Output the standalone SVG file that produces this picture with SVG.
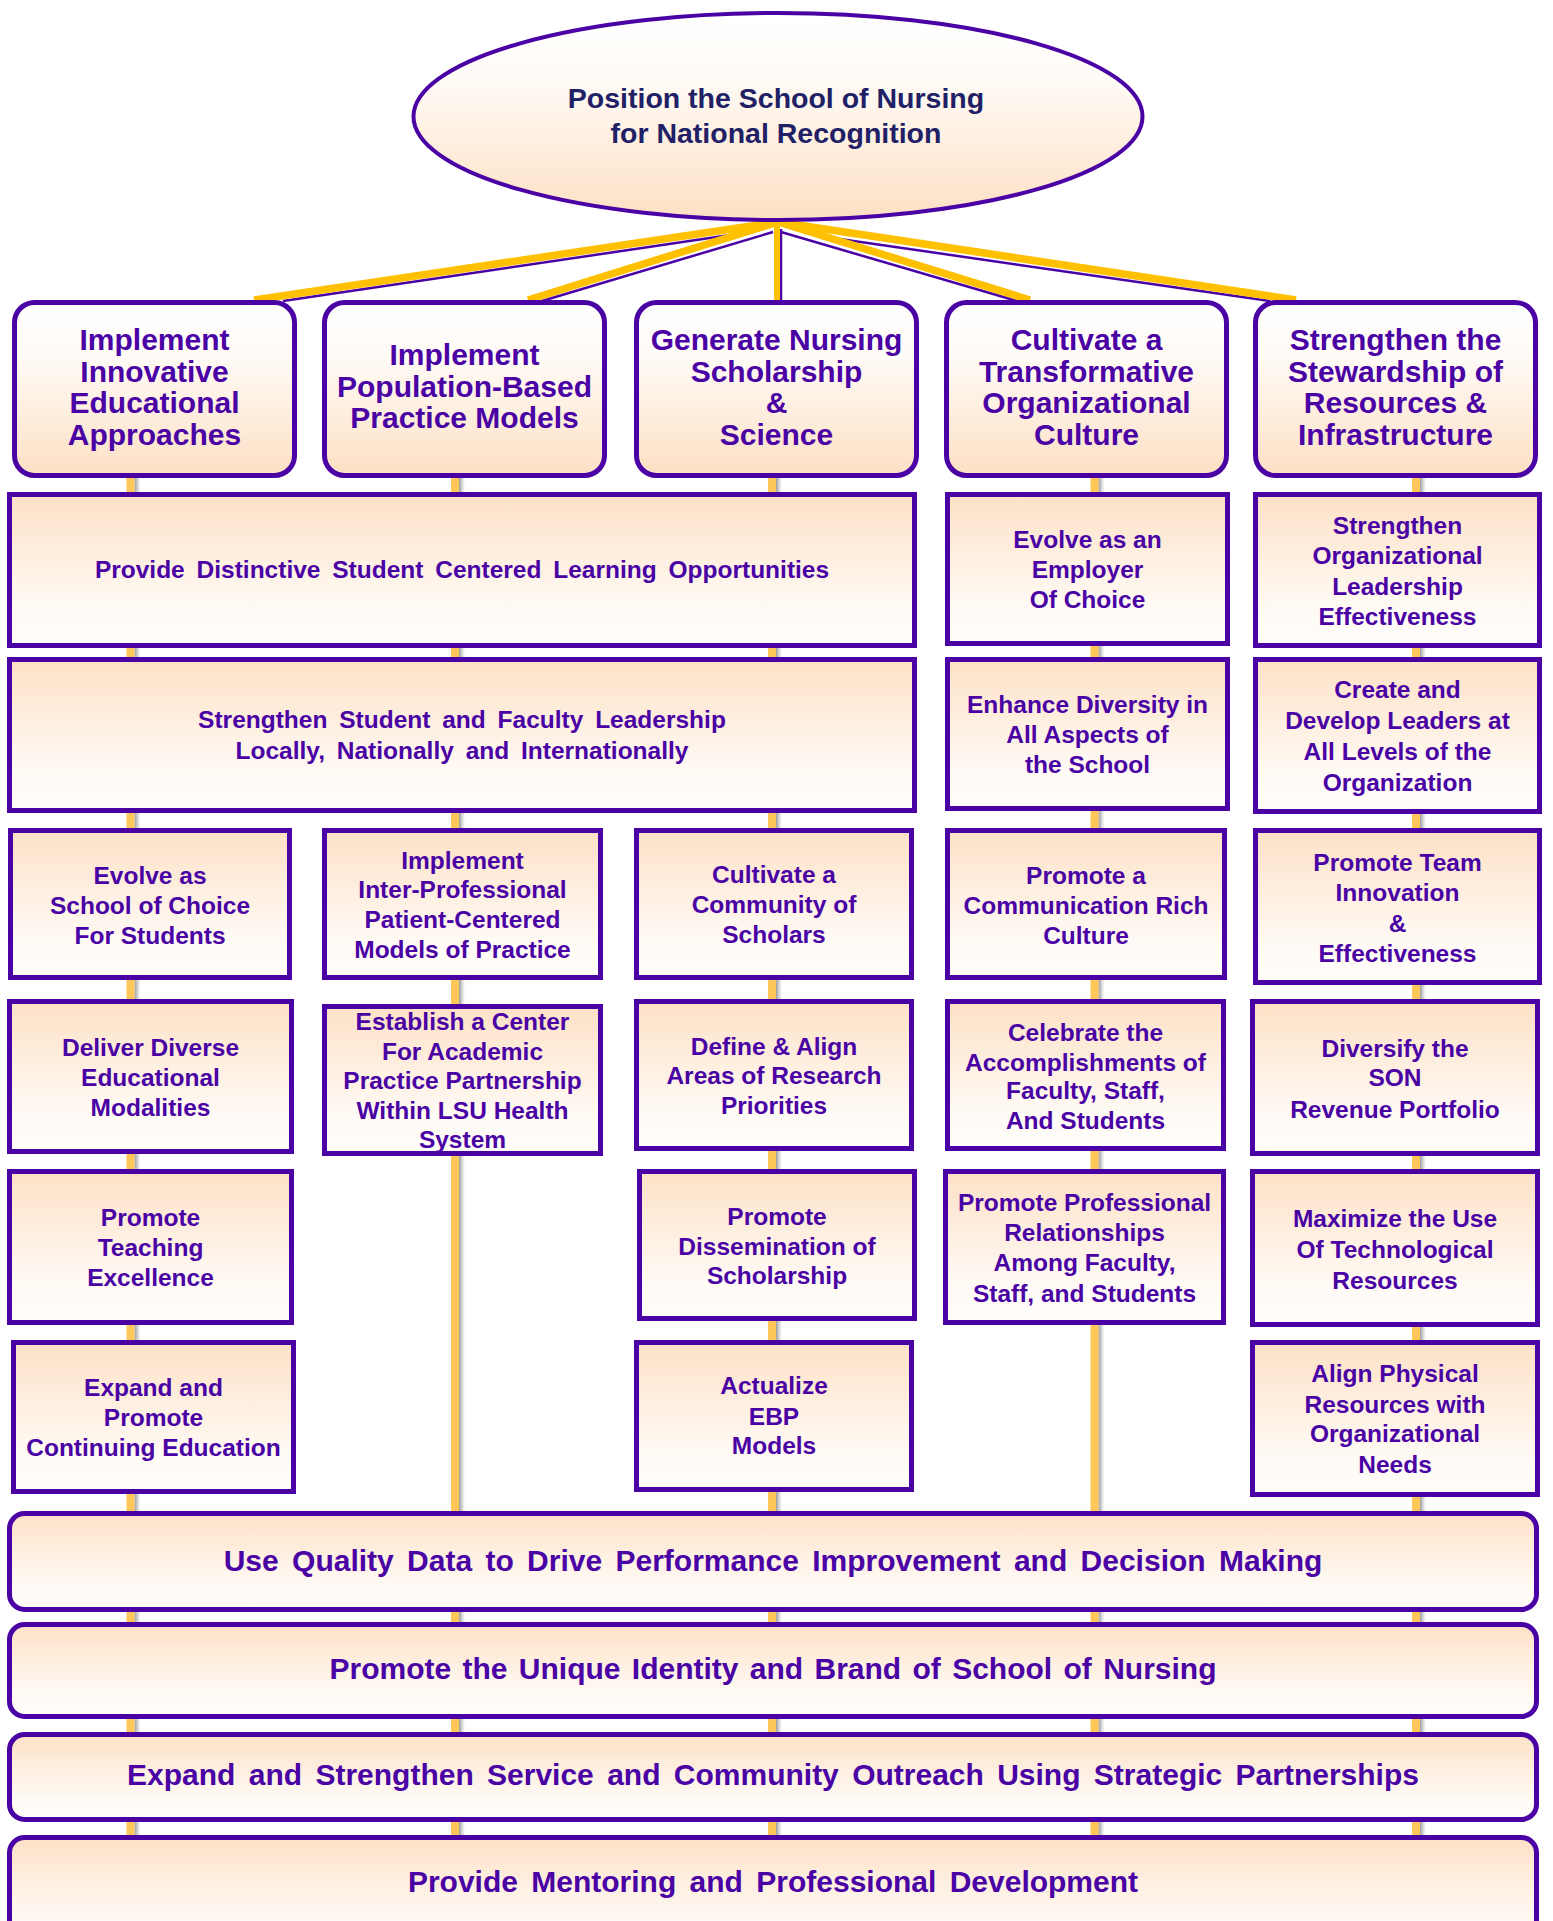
<svg xmlns="http://www.w3.org/2000/svg" width="1553" height="1921" viewBox="0 0 1553 1921">
<defs>
<linearGradient id="gUp" x1="0" y1="0" x2="0" y2="1">
<stop offset="0" stop-color="#FFFFFF"/>
<stop offset="0.3" stop-color="#FFFBF7"/>
<stop offset="1" stop-color="#FDE0C4"/>
</linearGradient>
<linearGradient id="gDown" x1="0" y1="0" x2="0" y2="1">
<stop offset="0" stop-color="#FDE1C6"/>
<stop offset="0.75" stop-color="#FFFAF5"/>
<stop offset="1" stop-color="#FFFDFB"/>
</linearGradient>
<linearGradient id="gShadow" x1="0" y1="0" x2="1" y2="0">
<stop offset="0" stop-color="#7A7A7A" stop-opacity="0.75"/>
<stop offset="1" stop-color="#9A9A9A" stop-opacity="0"/>
</linearGradient>
</defs>
<style>
.n{fill:url(#gDown);stroke:#4A02A5;stroke-width:5}
.top{fill:url(#gUp);stroke:#4A02A5;stroke-width:5}
text{font-family:"Liberation Sans",Arial,sans-serif;font-weight:bold;fill:#4A02A5;text-anchor:middle}
.t{font-size:24.5px}
.h{font-size:30px}
.b{font-size:30px;word-spacing:5px}
.w{word-spacing:5px}
.e{font-size:28.5px;fill:#211F66}
.gold{stroke:#FFC000;stroke-width:7.5;fill:none}
.pur{stroke:#4A02A5;stroke-width:2.5;fill:none}
.vl{fill:#FFC65A}
.vs{fill:url(#gShadow)}
</style>

<g id="connectors">
<rect class="vs" x="134.5" y="478" width="6" height="1443"/>
<rect class="vl" x="126.5" y="478" width="8" height="1443"/>
<rect class="vs" x="459" y="478" width="6" height="1443"/>
<rect class="vl" x="451" y="478" width="8" height="1443"/>
<rect class="vs" x="776" y="478" width="6" height="1443"/>
<rect class="vl" x="768" y="478" width="8" height="1443"/>
<rect class="vs" x="1098.5" y="478" width="6" height="1443"/>
<rect class="vl" x="1090.5" y="478" width="8" height="1443"/>
<rect class="vs" x="1420" y="478" width="6" height="1443"/>
<rect class="vl" x="1412" y="478" width="8" height="1443"/>
<line class="pur" x1="730" y1="235" x2="283" y2="301"/>
<line class="pur" x1="773" y1="232" x2="542" y2="301"/>
<line class="pur" x1="781" y1="229" x2="781" y2="301"/>
<line class="pur" x1="781" y1="232" x2="1017" y2="301"/>
<line class="pur" x1="819" y1="236" x2="1270" y2="301"/>
<line class="gold" x1="778" y1="222" x2="254" y2="300"/>
<line class="gold" x1="778" y1="222" x2="528" y2="300"/>
<line class="gold" x1="777" y1="222" x2="777" y2="300" style="stroke-width:6"/>
<line class="gold" x1="778" y1="222" x2="1030" y2="300"/>
<line class="gold" x1="778" y1="222" x2="1296" y2="300"/>
</g>

<g id="root">
<ellipse cx="778" cy="116.5" rx="364.5" ry="103.5" fill="url(#gUp)" stroke="#4A02A5" stroke-width="4"/>
<text class="e" x="776" y="108">Position the School of Nursing</text>
<text class="e" x="776" y="143">for National Recognition</text>
</g>

<g id="goal1">
<rect class="top" x="14.5" y="302.5" width="280" height="173" rx="20"/>
<text class="h" x="154.5" y="350">Implement</text>
<text class="h" x="154.5" y="381.5">Innovative</text>
<text class="h" x="154.5" y="413">Educational</text>
<text class="h" x="154.5" y="444.5">Approaches</text>
</g>
<g id="goal2">
<rect class="top" x="324.5" y="302.5" width="280" height="173" rx="20"/>
<text class="h" x="464.5" y="365">Implement</text>
<text class="h" x="464.5" y="397">Population-Based</text>
<text class="h" x="464.5" y="428">Practice Models</text>
</g>
<g id="goal3">
<rect class="top" x="636.5" y="302.5" width="280" height="173" rx="20"/>
<text class="h" x="776.5" y="350">Generate Nursing</text>
<text class="h" x="776.5" y="381.5">Scholarship</text>
<text class="h" x="776.5" y="413">&amp;</text>
<text class="h" x="776.5" y="444.5">Science</text>
</g>
<g id="goal4">
<rect class="top" x="946.5" y="302.5" width="280" height="173" rx="20"/>
<text class="h" x="1086.5" y="350">Cultivate a</text>
<text class="h" x="1086.5" y="381.5">Transformative</text>
<text class="h" x="1086.5" y="413">Organizational</text>
<text class="h" x="1086.5" y="444.5">Culture</text>
</g>
<g id="goal5">
<rect class="top" x="1255.5" y="302.5" width="280" height="173" rx="20"/>
<text class="h" x="1395.5" y="350">Strengthen the</text>
<text class="h" x="1395.5" y="381.5">Stewardship of</text>
<text class="h" x="1395.5" y="413">Resources &amp;</text>
<text class="h" x="1395.5" y="444.5">Infrastructure</text>
</g>

<g id="provide-distinctive">
<rect class="n" x="9.5" y="494.5" width="905" height="151"/>
<text class="t w" x="462" y="578">Provide Distinctive Student Centered Learning Opportunities</text>
</g>
<g id="evolve-employer">
<rect class="n" x="947.5" y="494.5" width="280" height="149"/>
<text class="t" x="1087.5" y="548">Evolve as an</text>
<text class="t" x="1087.5" y="578">Employer</text>
<text class="t" x="1087.5" y="608">Of Choice</text>
</g>
<g id="strengthen-org">
<rect class="n" x="1255.5" y="494.5" width="284" height="151"/>
<text class="t" x="1397.5" y="534">Strengthen</text>
<text class="t" x="1397.5" y="564">Organizational</text>
<text class="t" x="1397.5" y="595">Leadership</text>
<text class="t" x="1397.5" y="625">Effectiveness</text>
</g>

<g id="strengthen-student">
<rect class="n" x="9.5" y="659.5" width="905" height="151"/>
<text class="t w" x="462" y="728">Strengthen Student and Faculty Leadership</text>
<text class="t w" x="462" y="759">Locally, Nationally and Internationally</text>
</g>
<g id="enhance-diversity">
<rect class="n" x="947.5" y="659.5" width="280" height="149"/>
<text class="t" x="1087.5" y="713">Enhance Diversity in</text>
<text class="t" x="1087.5" y="743">All Aspects of</text>
<text class="t" x="1087.5" y="773">the School</text>
</g>
<g id="create-develop">
<rect class="n" x="1255.5" y="659.5" width="284" height="152"/>
<text class="t" x="1397.5" y="698">Create and</text>
<text class="t" x="1397.5" y="729">Develop Leaders at</text>
<text class="t" x="1397.5" y="760">All Levels of the</text>
<text class="t" x="1397.5" y="791">Organization</text>
</g>

<g id="evolve-school">
<rect class="n" x="10.5" y="830.5" width="279" height="147"/>
<text class="t" x="150" y="884">Evolve as</text>
<text class="t" x="150" y="914">School of Choice</text>
<text class="t" x="150" y="944">For Students</text>
</g>
<g id="implement-inter">
<rect class="n" x="324.5" y="830.5" width="276" height="147"/>
<text class="t" x="462.5" y="869">Implement</text>
<text class="t" x="462.5" y="898">Inter-Professional</text>
<text class="t" x="462.5" y="928">Patient-Centered</text>
<text class="t" x="462.5" y="958">Models of Practice</text>
</g>
<g id="cultivate-community">
<rect class="n" x="636.5" y="830.5" width="275" height="147"/>
<text class="t" x="774" y="883">Cultivate a</text>
<text class="t" x="774" y="913">Community of</text>
<text class="t" x="774" y="943">Scholars</text>
</g>
<g id="promote-communication">
<rect class="n" x="947.5" y="830.5" width="277" height="147"/>
<text class="t" x="1086" y="884">Promote a</text>
<text class="t" x="1086" y="914">Communication Rich</text>
<text class="t" x="1086" y="944">Culture</text>
</g>
<g id="promote-team">
<rect class="n" x="1255.5" y="830.5" width="284" height="152"/>
<text class="t" x="1397.5" y="871">Promote Team</text>
<text class="t" x="1397.5" y="901">Innovation</text>
<text class="t" x="1397.5" y="932">&amp;</text>
<text class="t" x="1397.5" y="962">Effectiveness</text>
</g>

<g id="deliver-diverse">
<rect class="n" x="9.5" y="1001.5" width="282" height="150"/>
<text class="t" x="150.5" y="1056">Deliver Diverse</text>
<text class="t" x="150.5" y="1086">Educational</text>
<text class="t" x="150.5" y="1116">Modalities</text>
</g>
<g id="establish-center">
<rect class="n" x="324.5" y="1006.5" width="276" height="147"/>
<text class="t" x="462.5" y="1030">Establish a Center</text>
<text class="t" x="462.5" y="1060">For Academic</text>
<text class="t" x="462.5" y="1089">Practice Partnership</text>
<text class="t" x="462.5" y="1119">Within LSU Health</text>
<text class="t" x="462.5" y="1148">System</text>
</g>
<g id="define-align">
<rect class="n" x="636.5" y="1001.5" width="275" height="147"/>
<text class="t" x="774" y="1055">Define &amp; Align</text>
<text class="t" x="774" y="1084">Areas of Research</text>
<text class="t" x="774" y="1114">Priorities</text>
</g>
<g id="celebrate">
<rect class="n" x="947.5" y="1001.5" width="276" height="147"/>
<text class="t" x="1085.5" y="1041">Celebrate the</text>
<text class="t" x="1085.5" y="1071">Accomplishments of</text>
<text class="t" x="1085.5" y="1099">Faculty, Staff,</text>
<text class="t" x="1085.5" y="1129">And Students</text>
</g>
<g id="diversify">
<rect class="n" x="1252.5" y="1001.5" width="285" height="152"/>
<text class="t" x="1395" y="1057">Diversify the</text>
<text class="t" x="1395" y="1086">SON</text>
<text class="t" x="1395" y="1118">Revenue Portfolio</text>
</g>

<g id="promote-teaching">
<rect class="n" x="9.5" y="1171.5" width="282" height="151"/>
<text class="t" x="150.5" y="1226">Promote</text>
<text class="t" x="150.5" y="1256">Teaching</text>
<text class="t" x="150.5" y="1286">Excellence</text>
</g>
<g id="promote-dissemination">
<rect class="n" x="639.5" y="1171.5" width="275" height="147"/>
<text class="t" x="777" y="1225">Promote</text>
<text class="t" x="777" y="1255">Dissemination of</text>
<text class="t" x="777" y="1284">Scholarship</text>
</g>
<g id="promote-professional">
<rect class="n" x="945.5" y="1171.5" width="278" height="151"/>
<text class="t" x="1084.5" y="1211">Promote Professional</text>
<text class="t" x="1084.5" y="1241">Relationships</text>
<text class="t" x="1084.5" y="1271">Among Faculty,</text>
<text class="t" x="1084.5" y="1302">Staff, and Students</text>
</g>
<g id="maximize">
<rect class="n" x="1252.5" y="1171.5" width="285" height="153"/>
<text class="t" x="1395" y="1227">Maximize the Use</text>
<text class="t" x="1395" y="1258">Of Technological</text>
<text class="t" x="1395" y="1289">Resources</text>
</g>

<g id="expand-promote">
<rect class="n" x="13.5" y="1342.5" width="280" height="149"/>
<text class="t" x="153.5" y="1396">Expand and</text>
<text class="t" x="153.5" y="1426">Promote</text>
<text class="t" x="153.5" y="1456">Continuing Education</text>
</g>
<g id="actualize">
<rect class="n" x="636.5" y="1342.5" width="275" height="147"/>
<text class="t" x="774" y="1394">Actualize</text>
<text class="t" x="774" y="1425">EBP</text>
<text class="t" x="774" y="1454">Models</text>
</g>
<g id="align-physical">
<rect class="n" x="1252.5" y="1342.5" width="285" height="152"/>
<text class="t" x="1395" y="1382">Align Physical</text>
<text class="t" x="1395" y="1413">Resources with</text>
<text class="t" x="1395" y="1442">Organizational</text>
<text class="t" x="1395" y="1473">Needs</text>
</g>

<g id="quality-data">
<rect class="n" x="9.5" y="1513.5" width="1527" height="96" rx="15"/>
<text class="b" x="773" y="1571">Use Quality Data to Drive Performance Improvement and Decision Making</text>
</g>
<g id="unique-identity">
<rect class="n" x="9.5" y="1624.5" width="1527" height="92" rx="15"/>
<text class="b" x="773" y="1679" style="word-spacing:3px">Promote the Unique Identity and Brand of School of Nursing</text>
</g>
<g id="service-outreach">
<rect class="n" x="9.5" y="1734.5" width="1527" height="85" rx="15"/>
<text class="b" x="773" y="1785">Expand and Strengthen Service and Community Outreach Using Strategic Partnerships</text>
</g>
<g id="mentoring">
<rect class="n" x="9.5" y="1837.5" width="1527" height="110" rx="15"/>
<text class="b" x="773" y="1892">Provide Mentoring and Professional Development</text>
</g>
</svg>
